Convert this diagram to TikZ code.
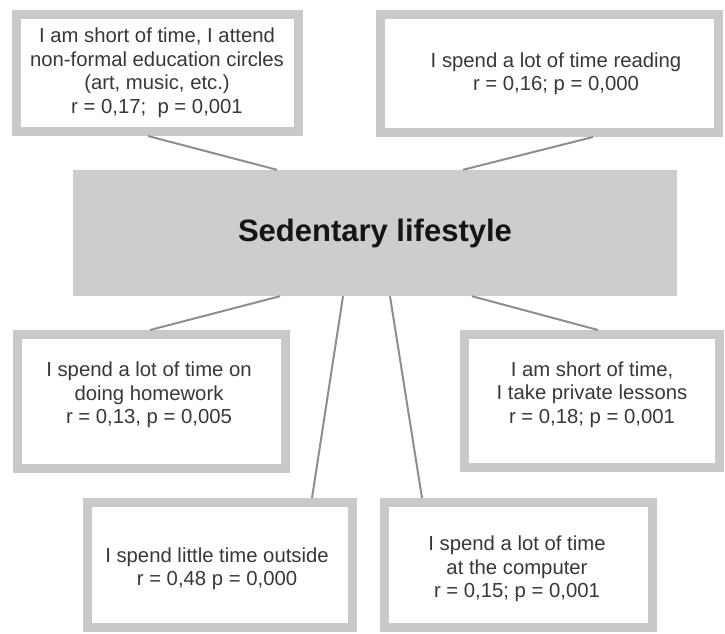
\documentclass[tikz,border=0pt]{standalone}
\usepackage{fontspec}
\setmainfont{Liberation Sans}
\usetikzlibrary{calc}
\definecolor{framegray}{HTML}{C9C9C9}
\definecolor{hubgray}{HTML}{CDCDCD}
\definecolor{linkgray}{HTML}{8E8E8E}
\definecolor{textgray}{HTML}{383838}
\definecolor{titleblack}{HTML}{151515}
\begin{document}
\begin{tikzpicture}[x=1pt,y=-1pt,
  frame/.style={draw=framegray, line width=9pt, fill=white, inner sep=0pt},
  hub/.style={fill=hubgray, inner sep=0pt, minimum width=604pt, minimum height=126pt,
              text=titleblack, font=\bfseries\fontsize{31}{36}\selectfont},
  txt/.style={align=center, text=textgray, font=\fontsize{20.3}{23.5}\selectfont, inner sep=0pt},
  link/.style={draw=linkgray, line width=2pt}]

% page area
\fill[white] (0,0) rectangle (725,633);
\useasboundingbox (0,0) rectangle (725,633);

% central factor
\node[hub] (hub) at (375,233) {Sedentary lifestyle};

% surrounding frames
\node[frame, minimum width=282pt, minimum height=117pt] (b1) at (157.5,73) {};
\node[frame, minimum width=338pt, minimum height=118pt] (b2) at (549.5,73.5) {};
\node[frame, minimum width=268pt, minimum height=134pt] (b3) at (151.5,401.5) {};
\node[frame, minimum width=255pt, minimum height=133pt] (b4) at (592,401) {};
\node[frame, minimum width=265pt, minimum height=125pt] (b5) at (220,565) {};
\node[frame, minimum width=268pt, minimum height=125pt] (b6) at (518.5,565) {};

% frame texts
\node[txt] (t1) at ($(b1.center)+(-0.5,-0.5)$) {I am short of time, I attend\\non-formal education circles\\(art, music, etc.)\\r = 0,17;\ \ p = 0,001};
\node[txt] (t2) at ($(b2.center)+(6.5,0)$) {I spend a lot of time reading\\r = 0,16; p = 0,000};
\node[txt] (t3) at ($(b3.center)+(-2.5,-6.5)$) {I spend a lot of time on\\doing homework\\r = 0,13, p = 0,005};
\node[txt] (t4) at ($(b4.center)+(0,-6.5)$) {I am short of time,\\I take private lessons\\r = 0,18; p = 0,001};
\node[txt] (t5) at ($(b5.center)+(-3,3.5)$) {I spend little time outside\\r = 0,48 p = 0,000};
\node[txt] (t6) at ($(b6.center)+(-1.5,4)$) {I spend a lot of time\\at the computer\\r = 0,15; p = 0,001};

% connectors
\draw[link] ([xshift=-9.5pt]b1.south) -- ([xshift=-98pt]hub.north);
\draw[link] ([xshift=43.5pt]b2.south) -- ([xshift=88pt]hub.north);
\draw[link] ([xshift=-95pt]hub.south) -- ([xshift=-1.5pt]b3.north);
\draw[link] ([xshift=97pt]hub.south) -- ([xshift=6pt]b4.north);
\draw[link] ([xshift=-32pt]hub.south) -- ([xshift=92pt]b5.north);
\draw[link] ([xshift=15pt]hub.south) -- ([xshift=-96.5pt]b6.north);
\end{tikzpicture}
\end{document}
